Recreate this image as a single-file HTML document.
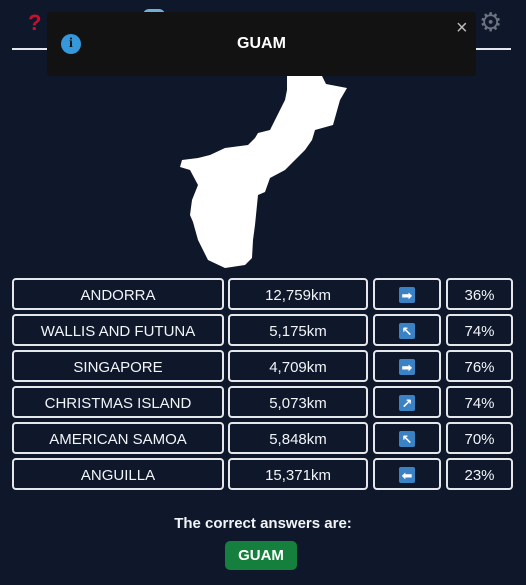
<!DOCTYPE html>
<html><head><meta charset="utf-8">
<style>
html,body{margin:0;padding:0;}
body{width:526px;height:585px;background:#0f172a;position:relative;overflow:hidden;font-family:"Liberation Sans","DejaVu Sans",sans-serif;color:#fff;}
.abs{position:absolute;}
.cell{position:absolute;box-sizing:border-box;border:2px solid #e5e7eb;border-radius:4px;height:32px;padding-top:2px;display:flex;align-items:center;justify-content:center;font-size:15px;color:#f1f5f9;}
.dir{width:16px;height:16px;background:#3b82c4;border-radius:2px;display:flex;align-items:center;justify-content:center;font-size:13px;color:#fff;font-weight:bold;line-height:1;}
</style></head><body>
<div class="abs" style="left:28px;top:10px;color:#c8102e;font-size:22px;font-weight:bold;">?</div>
<div class="abs" style="left:143px;top:9px;width:22px;height:6px;border-radius:11px 11px 0 0;background:#6fb0d8;"></div>
<div class="abs" style="left:12px;top:48px;width:499px;height:2px;background:#e5e7eb;"></div>
<div class="abs" style="left:479px;top:8px;color:#6b7280;font-size:26px;line-height:28px;">⚙</div>

<svg class="abs" style="left:0;top:0" width="526" height="585">
<path fill="#fff" d="M287,76 L322,76 L326,84 L347,88 L340,100 L333,125 L315,130 L312,140 L305,150 L285,170 L270,178 L265,192 L258,195 L255,225 L253,240 L252,258 L245,265 L225,268 L208,260 L198,240 L193,222 L190,215 L192,200 L198,185 L190,170 L180,167 L182,160 L198,158 L210,155 L225,148 L248,145 L255,138 L258,133 L270,130 L275,120 L280,110 L285,100 L287,90 Z"/>
</svg>

<div class="abs" style="left:47px;top:12px;width:429px;height:64px;background:#121212;border-radius:4px;">
  <div class="abs" style="left:14px;top:22px;width:20px;height:20px;border-radius:50%;background:#3498db;color:#111;font-weight:bold;font-size:14px;text-align:center;line-height:20px;font-family:'Liberation Serif',serif;">i</div>
  <div class="abs" style="left:0;width:429px;top:23px;text-align:center;font-weight:bold;font-size:16px;">GUAM</div>
  <div class="abs" style="left:409px;top:5px;color:#bbb;font-size:20px;">×</div>
</div>

<div id="rows"></div>

<div class="abs" style="left:0;width:526px;top:515px;text-align:center;font-size:15px;font-weight:bold;color:#f1f5f9;">The correct answers are:</div>
<div class="abs" style="left:225px;top:541px;width:72px;height:29px;background:#15803d;border-radius:5px;text-align:center;line-height:29px;font-weight:bold;font-size:15px;">GUAM</div>

<script>
const names=["ANDORRA","WALLIS AND FUTUNA","SINGAPORE","CHRISTMAS ISLAND","AMERICAN SAMOA","ANGUILLA"];
const dists=["12,759km","5,175km","4,709km","5,073km","5,848km","15,371km"];
const dirs=["➡","↖","➡","↗","↖","⬅"];
const pcts=["36%","74%","76%","74%","70%","23%"];
const rows=document.getElementById('rows');
names.forEach((n,i)=>{
  const y=278+i*36;
  const mk=(x,w,html,name)=>{
    const d=document.createElement('div');
    d.className='cell';
    d.style.left=x+'px';d.style.top=y+'px';d.style.width=w+'px';
    d.innerHTML=html;
    
    
    rows.appendChild(d);
  };
  mk(12,212,n,'guess-name');
  mk(228,140,dists[i],'guess-distance');
  mk(373,68,'<div class="dir">'+dirs[i]+'</div>','guess-direction');
  mk(446,67,pcts[i],'guess-percent');
});
</script>
</body></html>
